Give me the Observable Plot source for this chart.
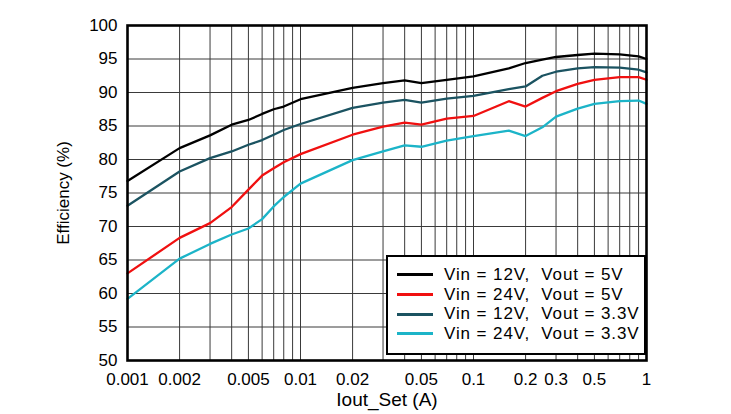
<!DOCTYPE html>
<html>
<head>
<meta charset="utf-8">
<script src="https://cdn.jsdelivr.net/npm/d3@7"></script>
<script src="https://cdn.jsdelivr.net/npm/@observablehq/plot@0.6"></script>
<style>
  html, body { margin: 0; padding: 0; background: #fff; }
  #wrap { position: relative; width: 731px; height: 414px; font-family: "Liberation Sans", Arial, sans-serif; }
  #legend { position: absolute; left: 386px; top: 255px; width: 260px; height: 100px; box-sizing: border-box;
            border: 2.5px solid #000; background: #fff; padding-top: 8px; }
  .row { display: flex; align-items: center; height: 19.7px; }
  .sw { width: 36px; height: 3px; margin-left: 9px; margin-right: 11px; }
  .lab { font-size: 17px; letter-spacing: 0.9px; color: #000; white-space: pre; }
</style>
</head>
<body>
<div id="wrap"></div>
<script>
// Iout_Set (A)
const iout = [0.001, 0.002, 0.003, 0.004, 0.005, 0.006, 0.007, 0.008, 0.01, 0.02, 0.03, 0.04, 0.05, 0.07, 0.1, 0.16, 0.2, 0.25, 0.3, 0.4, 0.5, 0.7, 0.9, 1.0];
// Efficiency (%)
const eff12v5 = [76.8, 81.7, 83.6, 85.2, 85.9, 86.8, 87.5, 87.9, 89.0, 90.7, 91.4, 91.8, 91.4, 91.9, 92.4, 93.6, 94.4, 94.9, 95.3, 95.6, 95.8, 95.7, 95.4, 95.0];
const eff24v5 = [63.0, 68.3, 70.5, 72.9, 75.5, 77.6, 78.7, 79.6, 80.8, 83.7, 84.9, 85.5, 85.2, 86.1, 86.5, 88.7, 87.9, 89.2, 90.2, 91.3, 91.9, 92.3, 92.3, 91.9];
const eff12v33 = [73.1, 78.2, 80.2, 81.2, 82.2, 82.9, 83.7, 84.4, 85.3, 87.7, 88.5, 88.9, 88.5, 89.1, 89.5, 90.5, 90.9, 92.5, 93.1, 93.6, 93.8, 93.7, 93.4, 93.0];
const eff24v33 = [59.2, 65.2, 67.4, 68.8, 69.7, 71.1, 73.0, 74.4, 76.4, 79.9, 81.2, 82.1, 81.9, 82.8, 83.5, 84.3, 83.5, 84.8, 86.4, 87.6, 88.3, 88.7, 88.8, 88.3];

const seriesNames = ["Vin = 12V,  Vout = 5V", "Vin = 24V,  Vout = 5V", "Vin = 12V,  Vout = 3.3V", "Vin = 24V,  Vout = 3.3V"];
const seriesColors = ["#000000", "#f01010", "#1b5361", "#1cb4c8"];
const seriesValues = [eff12v5, eff24v5, eff12v33, eff24v33];

const xTicks = [0.001, 0.002, 0.005, 0.01, 0.02, 0.05, 0.1, 0.2, 0.3, 0.5, 1];
const xTickLabels = ["0.001", "0.002", "0.005", "0.01", "0.02", "0.05", "0.1", "0.2", "0.3", "0.5", "1"];
const yTicks = [50, 55, 60, 65, 70, 75, 80, 85, 90, 95, 100];
const xGrid = [];
for (const dec of [0.001, 0.01, 0.1]) for (let k = 1; k <= 9; k++) xGrid.push(+(dec * k).toPrecision(3));
xGrid.push(1);

const rows = [];
seriesValues.forEach((vals, i) => vals.forEach((v, j) => rows.push({series: seriesNames[i], x: iout[j], y: v})));
const xTickRows = xTicks.map((v, i) => ({x: v, label: xTickLabels[i]}));

const chart = Plot.plot({
  width: 731,
  height: 414,
  marginLeft: 127,
  marginRight: 85,
  marginTop: 25,
  marginBottom: 54,
  style: {fontFamily: "Liberation Sans, Arial, sans-serif", fontSize: "17px", color: "#000", background: "#fff"},
  x: {type: "log", domain: [0.001, 1], axis: null},
  y: {domain: [50, 100]},
  color: {domain: seriesNames, range: seriesColors},
  marks: [
    Plot.ruleX(xGrid, {stroke: "#3a3a3a", strokeWidth: 1}),
    Plot.ruleY(yTicks, {stroke: "#3a3a3a", strokeWidth: 1}),
    Plot.line(rows, {x: "x", y: "y", z: "series", stroke: "series", strokeWidth: 2.3, strokeLinejoin: "round"}),
    Plot.frame({stroke: "#000", strokeWidth: 2.6}),
    Plot.text(xTickRows, {x: "x", text: "label", frameAnchor: "bottom", lineAnchor: "top", dy: 12, fontSize: 17, fill: "#000"}),
    Plot.text(["Iout_Set (A)"], {frameAnchor: "bottom", lineAnchor: "bottom", dy: 45, fontSize: 19, fill: "#000"}),
    Plot.axisY(yTicks, {tickSize: 0, tickPadding: 10, fontSize: 17,
      label: "Efficiency (%)", labelAnchor: "center", labelArrow: "none", labelOffset: 71})
  ]
});

const wrap = document.getElementById("wrap");
wrap.appendChild(chart);
const legend = document.createElement("div");
legend.id = "legend";
seriesNames.forEach((name, i) => {
  const row = document.createElement("div");
  row.className = "row";
  const sw = document.createElement("div");
  sw.className = "sw";
  sw.style.background = seriesColors[i];
  const lab = document.createElement("span");
  lab.className = "lab";
  lab.textContent = name;
  row.appendChild(sw);
  row.appendChild(lab);
  legend.appendChild(row);
});
wrap.appendChild(legend);
</script>
</body>
</html>
